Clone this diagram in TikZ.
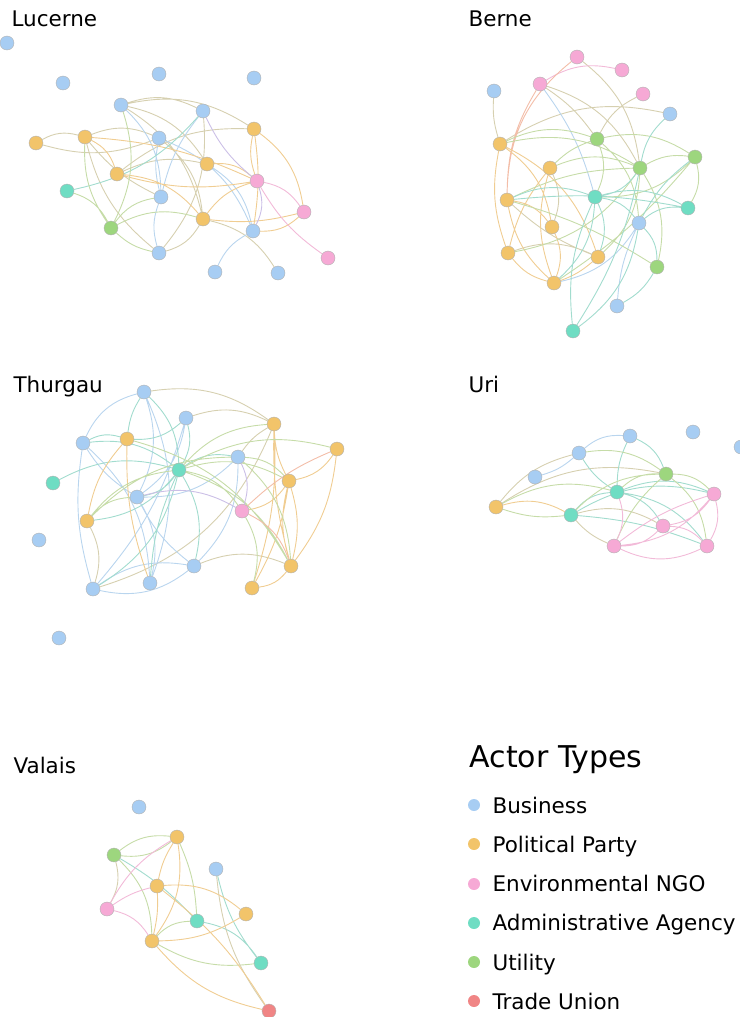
\documentclass[tikz,border=0pt]{standalone}
\usepackage{fontspec}
\setmainfont{DejaVu Sans}
\pgfdeclarelayer{edges}
\pgfsetlayers{edges,main}

% actor colours
\definecolor{bizcol}{HTML}{A7CDF3}
\definecolor{partycol}{HTML}{F2C46A}
\definecolor{ngocol}{HTML}{F6A9D5}
\definecolor{agencycol}{HTML}{6FDDC3}
\definecolor{utilcol}{HTML}{9DD67E}
\definecolor{unioncol}{HTML}{F08585}
% tie colours
\definecolor{tieolive}{HTML}{D6D0B0}
\definecolor{tieblue}{HTML}{B9D5EE}
\definecolor{tieorange}{HTML}{F0CD92}
\definecolor{tiepink}{HTML}{F2BAD8}
\definecolor{tieteal}{HTML}{A2DCCE}
\definecolor{tiegreen}{HTML}{C6DCA8}
\definecolor{tieviolet}{HTML}{CBBFE6}
\definecolor{tiesalmon}{HTML}{F3BDA8}

\tikzset{
  actor/.style={circle, inner sep=0pt, minimum size=14pt, draw=black!30, line width=0.4pt},
  biz/.style={actor, fill=bizcol},
  party/.style={actor, fill=partycol},
  ngo/.style={actor, fill=ngocol},
  agency/.style={actor, fill=agencycol},
  util/.style={actor, fill=utilcol},
  union/.style={actor, fill=unioncol},
  tie/.style={line width=0.9pt, bend left=22},
  to/.style={tie, tieorange},
  tb/.style={tie, tieblue},
  tl/.style={tie, tieolive},
  tp/.style={tie, tiepink},
  tt/.style={tie, tieteal},
  tg/.style={tie, tiegreen},
  tv/.style={tie, tieviolet},
  ts/.style={tie, tiesalmon},
  canton/.style={anchor=base west, font=\fontsize{21.5}{25}\selectfont},
  key/.style={anchor=base west, font=\fontsize{21.5}{25}\selectfont},
  keydot/.style={minimum size=12pt, draw=none}
}

\begin{document}
\begin{tikzpicture}[x=1pt, y=-1pt]
\useasboundingbox (0,0) rectangle (739,1017);

% titles
\node[canton] (tlu) at (8,26) {Lucerne};
\node[canton] (tbe) at (465,26) {Berne};
\node[canton] (tth) at (10,392) {Thurgau};
\node[canton] (tur) at (465,392) {Uri};
\node[canton] (tva) at (10,773) {Valais};

% Lucerne
\node[biz] (lu1) at (7,43) {};
\node[biz] (lu2) at (63,83) {};
\node[biz] (lu3) at (159,74) {};
\node[biz] (lu4) at (254,78) {};
\node[biz] (lu5) at (121,105) {};
\node[biz] (lu6) at (203,111) {};
\node[party] (lu7) at (254,129) {};
\node[party] (lu8) at (36,143) {};
\node[party] (lu9) at (85,137) {};
\node[biz] (lu10) at (159,138) {};
\node[party] (lu11) at (207,164) {};
\node[party] (lu12) at (117,174) {};
\node[ngo] (lu13) at (257,181) {};
\node[agency] (lu14) at (67,191) {};
\node[biz] (lu15) at (161,197) {};
\node[ngo] (lu16) at (304,212) {};
\node[party] (lu17) at (203,219) {};
\node[util] (lu18) at (111,228) {};
\node[biz] (lu19) at (253,231) {};
\node[biz] (lu20) at (159,253) {};
\node[ngo] (lu21) at (328,258) {};
\node[biz] (lu22) at (215,272) {};
\node[biz] (lu23) at (278,273) {};

% Berne
\node[ngo] (be1) at (577,57) {};
\node[ngo] (be2) at (622,70) {};
\node[ngo] (be3) at (540,84) {};
\node[ngo] (be4) at (643,94) {};
\node[biz] (be5) at (494,91) {};
\node[biz] (be6) at (670,114) {};
\node[party] (be7) at (500,144) {};
\node[util] (be8) at (597,139) {};
\node[util] (be9) at (695,157) {};
\node[party] (be10) at (550,168) {};
\node[util] (be11) at (640,168) {};
\node[party] (be12) at (507,200) {};
\node[agency] (be13) at (595,197) {};
\node[agency] (be14) at (688,208) {};
\node[biz] (be15) at (639,223) {};
\node[party] (be16) at (552,227) {};
\node[party] (be17) at (508,253) {};
\node[party] (be18) at (598,257) {};
\node[util] (be19) at (657,267) {};
\node[party] (be20) at (554,283) {};
\node[biz] (be21) at (617,306) {};
\node[agency] (be22) at (573,331) {};

% Thurgau
\node[biz] (th1) at (144,392) {};
\node[biz] (th2) at (186,418) {};
\node[party] (th3) at (274,424) {};
\node[biz] (th4) at (83,443) {};
\node[party] (th5) at (127,439) {};
\node[party] (th6) at (337,449) {};
\node[biz] (th7) at (238,457) {};
\node[agency] (th8) at (179,470) {};
\node[agency] (th9) at (53,483) {};
\node[party] (th10) at (289,481) {};
\node[biz] (th11) at (137,497) {};
\node[ngo] (th12) at (242,511) {};
\node[party] (th13) at (87,521) {};
\node[biz] (th14) at (39,540) {};
\node[biz] (th15) at (194,566) {};
\node[party] (th16) at (291,566) {};
\node[biz] (th17) at (150,583) {};
\node[party] (th18) at (252,588) {};
\node[biz] (th19) at (93,589) {};
\node[biz] (th20) at (59,638) {};

% Uri
\node[biz] (ur1) at (630,436) {};
\node[biz] (ur2) at (693,432) {};
\node[biz] (ur3) at (741,447) {};
\node[biz] (ur4) at (579,453) {};
\node[util] (ur5) at (666,474) {};
\node[biz] (ur6) at (535,477) {};
\node[agency] (ur7) at (617,492) {};
\node[ngo] (ur8) at (714,494) {};
\node[party] (ur9) at (496,507) {};
\node[agency] (ur10) at (571,515) {};
\node[ngo] (ur11) at (663,526) {};
\node[ngo] (ur12) at (614,546) {};
\node[ngo] (ur13) at (707,546) {};

% Valais
\node[biz] (va1) at (139,807) {};
\node[party] (va2) at (177,837) {};
\node[util] (va3) at (114,855) {};
\node[biz] (va4) at (216,869) {};
\node[party] (va5) at (157,886) {};
\node[ngo] (va6) at (107,909) {};
\node[party] (va7) at (246,914) {};
\node[agency] (va8) at (197,921) {};
\node[party] (va9) at (152,941) {};
\node[agency] (va10) at (261,963) {};
\node[union] (va11) at (269,1011) {};

\begin{pgfonlayer}{edges}
% Lucerne ties
\draw[tl] (lu8) to (lu9) (lu8) to[bend right=18] (lu10) (lu5) to (lu7) (lu5) to (lu6)
  (lu5) to (lu11) (lu9) to[bend right=18] (lu20) (lu9) to[bend right=12] (lu15)
  (lu7) to[bend right=20] (lu12) (lu6) to (lu20) (lu17) to (lu23) (lu10) to (lu17)
  (lu11) to[bend right=18] (lu12) (lu9) to (lu10) (lu5) to (lu17) (lu17) to (lu20);
\draw[tb] (lu5) to (lu15) (lu11) to (lu19) (lu19) to[bend right=18] (lu22)
  (lu10) to[bend right=12] (lu15) (lu10) to (lu19) (lu15) to[bend right=18] (lu20) (lu6) to[bend right=12] (lu15);
\draw[to] (lu9) to (lu12) (lu12) to[bend right=12] (lu13) (lu12) to (lu17) (lu7) to[bend right=15] (lu13)
  (lu7) to (lu16) (lu7) to[bend left=8] (lu19) (lu11) to (lu13) (lu13) to[bend right=18] (lu17)
  (lu16) to[bend left=10] (lu17) (lu16) to (lu19) (lu9) to[bend left=10] (lu13);
\draw[tp] (lu13) to[bend right=12] (lu21) (lu13) to (lu16);
\draw[tv] (lu6) to[bend right=12] (lu13) (lu13) to (lu19);
\draw[tt] (lu14) to[bend right=18] (lu6);
\draw[tg] (lu14) to (lu18) (lu5) to (lu18) (lu9) to[bend right=18] (lu18) (lu18) to (lu15)
  (lu18) to[bend right=15] (lu20) (lu18) to (lu17);

% Berne ties
\draw[tl] (be5) to[bend right=10] (be7) (be1) to (be11) (be3) to (be11) (be3) to[bend left=10] (be8)
  (be4) to[bend right=18] (be8) (be7) to (be6) (be10) to (be16) (be17) to (be18) (be12) to[bend right=10] (be18);
\draw[tp] (be3) to (be2);
\draw[ts] (be1) to[bend right=25] (be12) (be3) to[bend right=15] (be12);
\draw[tb] (be3) to[bend left=10] (be13) (be15) to[bend right=10] (be21) (be15) to (be20);
\draw[to] (be7) to[bend right=15] (be17) (be7) to (be16) (be7) to (be18) (be10) to[bend right=18] (be20)
  (be12) to (be16) (be12) to[bend right=18] (be20) (be16) to (be20) (be17) to[bend right=18] (be20)
  (be18) to[bend left=10] (be20) (be10) to[bend right=12] (be17);
\draw[tg] (be7) to (be8) (be7) to (be11) (be8) to (be9) (be8) to (be13) (be8) to[bend right=12] (be10)
  (be8) to (be15) (be9) to[bend right=18] (be11) (be9) to (be14) (be9) to[bend left=8] (be20)
  (be10) to (be11) (be11) to (be18) (be11) to (be17) (be11) to[bend right=12] (be12)
  (be12) to[bend left=8] (be19) (be9) to (be13) (be11) to (be19);
\draw[tt] (be6) to[bend right=18] (be11) (be9) to[bend right=12] (be15) (be11) to (be13) (be12) to (be13)
  (be13) to (be14) (be13) to (be15) (be13) to (be18) (be13) to (be20) (be13) to[bend right=15] (be22)
  (be15) to (be14) (be15) to (be19) (be15) to (be22) (be21) to[bend right=15] (be19)
  (be11) to[bend left=10] (be22) (be14) to[bend right=8] (be12);

% Thurgau ties
\draw[tl] (th1) to (th3) (th2) to (th3) (th3) to[bend right=12] (th7) (th3) to[bend left=25] (th19)
  (th13) to (th19) (th15) to (th16);
\draw[tb] (th1) to[bend right=25] (th4) (th1) to (th11) (th1) to (th17) (th2) to[bend left=12] (th19)
  (th4) to[bend right=12] (th11) (th4) to[bend right=12] (th19) (th4) to (th17) (th19) to (th15)
  (th11) to (th17) (th11) to[bend right=12] (th15) (th7) to (th15) (th7) to (th11) (th2) to (th11)
  (th19) to[bend right=25] (th15);
\draw[tt] (th1) to (th8) (th1) to[bend right=12] (th5) (th2) to (th8) (th4) to (th5) (th4) to (th8)
  (th9) to (th8) (th8) to (th7) (th8) to (th11) (th8) to (th19) (th8) to[bend right=10] (th17)
  (th8) to (th15) (th8) to (th13) (th2) to (th5);
\draw[to] (th5) to[bend right=15] (th13) (th3) to[bend right=12] (th10) (th3) to[bend right=8] (th16)
  (th3) to[bend left=10] (th18) (th6) to (th10) (th6) to[bend left=15] (th16) (th10) to[bend right=15] (th16)
  (th10) to (th12) (th10) to[bend left=10] (th18) (th5) to[bend right=10] (th17) (th16) to (th18)
  (th10) to[bend left=15] (th16);
\draw[tg] (th8) to (th6) (th8) to (th3) (th8) to (th10) (th8) to (th16) (th8) to (th12)
  (th13) to (th7) (th5) to (th16) (th7) to (th10) (th7) to (th16) (th13) to (th11) (th13) to (th8)
  (th12) to (th18);
\draw[tv] (th7) to (th12) (th11) to (th12);
\draw[ts] (th12) to (th16) (th6) to[bend right=10] (th12);

% Uri ties
\draw[tb] (ur6) to[bend right=12] (ur4) (ur4) to (ur1);
\draw[tl] (ur4) to[bend right=18] (ur9) (ur9) to (ur5) (ur10) to[bend right=12] (ur12) (ur10) to (ur11);
\draw[tt] (ur4) to[bend right=12] (ur7) (ur1) to[bend right=12] (ur7) (ur1) to (ur5) (ur10) to (ur7)
  (ur7) to (ur8) (ur7) to (ur13) (ur7) to (ur11) (ur10) to[bend left=8] (ur13) (ur10) to (ur8);
\draw[tg] (ur4) to (ur5) (ur9) to (ur7) (ur9) to[bend right=12] (ur10) (ur10) to (ur5)
  (ur5) to (ur8) (ur5) to[bend right=12] (ur12) (ur5) to (ur13) (ur7) to (ur5);
\draw[to] (ur9) to (ur10);
\draw[tp] (ur8) to (ur12) (ur8) to (ur13) (ur8) to (ur11) (ur11) to (ur12) (ur11) to (ur13)
  (ur12) to[bend right=25] (ur13) (ur7) to (ur12) (ur12) to[bend left=10] (ur8);

% Valais ties
\draw[tg] (va3) to (va2) (va2) to (va3) (va3) to (va9) (va2) to[bend left=10] (va8) (va9) to (va8)
  (va9) to[bend right=18] (va10);
\draw[tt] (va3) to[bend left=8] (va8) (va8) to (va10) (va4) to[bend right=12] (va10);
\draw[tl] (va3) to (va6) (va4) to[bend right=15] (va11);
\draw[to] (va2) to[bend right=10] (va5) (va2) to (va9) (va5) to (va7) (va5) to[bend left=8] (va9)
  (va5) to[bend left=10] (va11) (va9) to[bend right=15] (va7) (va9) to[bend right=18] (va11);
\draw[tp] (va2) to[bend right=15] (va6) (va5) to[bend right=10] (va6) (va6) to (va9);
\end{pgfonlayer}

% legend
\node[anchor=base west, font=\fontsize{30}{36}\selectfont] (keytitle) at (466,767) {Actor Types};
\node[biz, keydot] (kb) at (474,805) {};
\node[key] (lb) at (489,813) {Business};
\node[party, keydot] (kp) at (474,844) {};
\node[key] (lp) at (489,852) {Political Party};
\node[ngo, keydot] (kn) at (474,884) {};
\node[key] (ln) at (489,891) {Environmental NGO};
\node[agency, keydot] (ka) at (474,923) {};
\node[key] (la) at (489,930) {Administrative Agency};
\node[util, keydot] (ku) at (474,962) {};
\node[key] (lu) at (489,970) {Utility};
\node[union, keydot] (kt) at (474,1001) {};
\node[key] (lt) at (489,1009) {Trade Union};
\end{tikzpicture}
\end{document}
